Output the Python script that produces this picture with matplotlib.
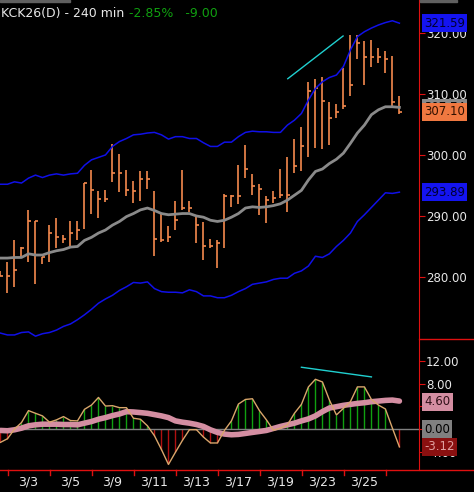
import matplotlib
matplotlib.use("Agg")
import matplotlib.pyplot as plt
from matplotlib.transforms import blended_transform_factory
import numpy as np

# ── data ─────────────────────────────────────────────────────────────
highs = [280.9, 282.5, 286.1, 284.9, 291.0, 289.2, 283.3, 288.5, 289.6, 286.9,
         289.2, 289.1, 295.4, 297.5, 294.1, 294.3, 301.8, 300.1, 297.5, 295.7,
         297.3, 297.3, 294.1, 290.4, 288.3, 292.4, 297.5, 292.5, 290.2, 289.0,
         286.3, 286.1, 293.6, 293.4, 298.3, 301.6, 296.9, 295.2, 293.2, 294.1,
         297.7, 299.6, 302.6, 304.6, 311.9, 312.5, 312.8, 308.7, 308.4, 314.2,
         319.7, 319.6, 318.7, 318.9, 317.6, 317.0, 316.2, 309.6]
lows = [280.1, 277.4, 278.3, 283.3, 282.4, 278.8, 282.1, 282.4, 284.7, 285.6,
        285.0, 286.1, 287.9, 290.4, 289.6, 292.3, 295.6, 294.0, 293.2, 292.1,
        292.5, 294.5, 283.5, 285.7, 285.8, 287.7, 290.9, 290.7, 285.5, 282.8,
        284.7, 281.5, 284.8, 291.4, 292.0, 296.2, 293.4, 290.2, 288.8, 292.1,
        292.9, 290.7, 297.0, 297.4, 299.6, 301.1, 300.9, 301.7, 306.0, 307.5,
        309.7, 315.8, 311.4, 314.5, 315.0, 313.4, 307.7, 306.7]
closes = [280.1, 280.1, 281.2, 284.7, 289.2, 289.1, 283.3, 287.2, 286.5, 286.3,
          287.2, 287.7, 295.4, 294.3, 292.8, 292.8, 297.0, 297.0, 294.3, 294.1,
          296.1, 296.1, 286.3, 286.1, 286.6, 289.3, 291.3, 291.3, 288.6, 285.0,
          285.0, 285.6, 293.2, 293.2, 293.2, 297.7, 294.9, 294.4, 292.6, 292.9,
          293.4, 293.4, 298.2, 301.4, 310.5, 310.9, 308.9, 306.0, 307.1, 308.0,
          311.5, 318.3, 316.0, 316.0, 316.0, 315.7, 308.7, 307.1]
bb_mid = [283.1, 283.1, 283.2, 283.2, 283.8, 283.6, 283.6, 284.0, 284.3, 284.5,
          284.9, 285.0, 286.0, 286.5, 287.2, 287.7, 288.5, 289.1, 289.9, 290.4,
          291.0, 291.3, 290.9, 290.4, 290.2, 290.3, 290.4, 290.4, 290.0, 289.8,
          289.3, 289.1, 289.3, 289.8, 290.4, 291.3, 291.5, 291.4, 291.5, 291.7,
          292.0, 292.6, 293.4, 294.2, 295.9, 297.3, 297.7, 298.6, 299.3, 300.3,
          301.9, 303.6, 304.9, 306.6, 307.4, 307.9, 307.9, 307.8]
bb_up = [295.2, 295.2, 295.6, 295.4, 296.2, 296.7, 296.3, 296.7, 296.9, 296.7,
         296.9, 297.0, 298.3, 299.2, 299.6, 300.0, 301.4, 302.2, 302.7, 303.3,
         303.4, 303.6, 303.7, 303.3, 302.6, 303.0, 303.0, 302.7, 302.7, 302.0,
         301.4, 301.4, 302.1, 302.1, 303.0, 303.7, 303.9, 303.8, 303.8, 303.7,
         303.7, 304.9, 305.7, 306.8, 309.0, 310.9, 312.0, 312.7, 313.1, 314.5,
         317.2, 319.4, 320.2, 320.8, 321.3, 321.7, 322.0, 321.6]
bb_lo = [270.8, 270.5, 270.5, 270.9, 271.0, 270.3, 270.7, 270.9, 271.3, 271.9,
         272.3, 273.0, 273.8, 274.7, 275.7, 276.4, 277.0, 277.8, 278.4, 279.1,
         279.0, 279.2, 278.1, 277.6, 277.5, 277.5, 277.4, 277.9, 277.6, 276.9,
         276.9, 276.6, 276.6, 277.0, 277.6, 278.1, 278.8, 279.0, 279.2, 279.6,
         279.8, 279.8, 280.6, 281.0, 281.8, 283.4, 283.2, 283.8, 285.0, 286.0,
         287.2, 289.1, 290.2, 291.4, 292.6, 293.8, 293.7, 293.9]
osc = [-2.33, -1.69, 0.0, 1.16, 3.26, 2.79, 2.33, 1.22, 1.63, 2.21,
       1.51, 1.45, 3.49, 4.24, 5.58, 4.07, 4.13, 3.78, 3.78, 1.92,
       1.74, 0.58, -1.16, -3.6, -6.22, -4.07, -1.98, -0.1, -0.1, -1.4,
       -2.44, -2.44, -0.23, 1.45, 4.42, 5.23, 5.35, 3.26, 1.63, -0.2,
       0.17, 0.76, 2.79, 4.36, 7.44, 8.78, 8.31, 5.12, 2.5, 3.66,
       4.83, 7.44, 7.44, 5.23, 4.24, 3.55, 0.17, -3.12]
signal = [-0.23, -0.29, -0.12, 0.17, 0.58, 0.76, 0.87, 0.87, 0.87, 0.81,
          0.81, 0.76, 1.05, 1.34, 1.74, 2.03, 2.38, 2.67, 3.08, 3.02,
          2.91, 2.79, 2.56, 2.33, 2.03, 1.45, 1.22, 1.05, 0.81, 0.47,
          -0.12, -0.58, -0.87, -0.99, -0.93, -0.76, -0.58, -0.41, -0.23, 0.12,
          0.47, 0.76, 1.05, 1.45, 1.8, 2.33, 3.08, 3.72, 3.95, 4.19,
          4.36, 4.53, 4.65, 4.83, 4.94, 5.06, 5.12, 4.94]
date_pos = [4, 10, 16, 22, 28, 34, 40, 46, 52]
date_labels = ["3/3", "3/5", "3/9", "3/11", "3/13", "3/17", "3/19", "3/23", "3/25"]
price_ticks = [280, 290, 300, 310, 320]
osc_ticks = [12, 8, 4, 0, -4]

# 색상
C_BAR = "#f58a4e"
C_BAND = "#1010e8"
C_MID = "#8a8a8a"
C_OSC = "#d9a66b"
C_SIG = "#d48ea2"
C_RED = "#e01010"
C_TXT = "#e8e8e8"

W, H = 474, 492
fig = plt.figure(figsize=(W / 100, H / 100), dpi=100, facecolor="black")
ax1 = fig.add_axes([0, (H - 338) / H, 419 / W, 338 / H])
ax2 = fig.add_axes([0, (H - 470) / H, 419 / W, 130 / H])

x = np.arange(len(closes))
for ax in (ax1, ax2):
    ax.set_facecolor("black")
    ax.set_xlim(-0.07, 59.8)
    ax.set_xticks([])
    for s in ("top", "left"):
        ax.spines[s].set_visible(False)
    ax.spines["right"].set_color(C_RED)
    ax.spines["bottom"].set_visible(False)
    ax.yaxis.tick_right()
    ax.tick_params(axis="y", colors=C_RED, length=4, labelsize=8.5, labelcolor=C_TXT, pad=1)

# ── price panel ─────────────────────────────────────────────────────
ax1.set_ylim(270.0, 325.4)
ax1.vlines(x, lows, highs, color=C_BAR, lw=1.2)
ax1.hlines(closes, x, x + 0.35, color=C_BAR, lw=1.2)
ax1.plot(x, bb_up, color=C_BAND, lw=1.1)
ax1.plot(x, bb_lo, color=C_BAND, lw=1.1)
ax1.plot(x, bb_mid, color=C_MID, lw=2)
ax1.plot([41.05, 48.95], [312.5, 319.5], color="#20d0d0", lw=1)
ax1.set_yticks(price_ticks)
ax1.set_yticklabels([f"{v:.2f}" for v in price_ticks])

tr1 = blended_transform_factory(ax1.transAxes, ax1.transData)
def tag(ax, tr, y, txt, fc, tc="black"):
    ax.text(1.012, y, txt, transform=tr, ha="left", va="center", fontsize=8.5, color=tc,
            clip_on=False, zorder=6,
            bbox=dict(boxstyle="square,pad=0.2", fc=fc, ec="none"))

tag(ax1, tr1, bb_mid[-1], "307.74", "#8a8a8a")
tag(ax1, tr1, bb_up[-1], "321.59", "#1414f0", "#000030")
tag(ax1, tr1, bb_lo[-1], "293.89", "#1414f0", "#000030")
tag(ax1, tr1, closes[-1], "307.10", "#f07840", "#301000")

fig.add_artist(plt.Rectangle((0, 0.995), 70 / W, 0.005, color="#606060"))
fig.add_artist(plt.Rectangle((420 / W, 0.995), 37 / W, 0.005, color="#606060"))
fig.text(0.002, 0.973, "KCK26(D) - 240 min", color=C_TXT, fontsize=9, va="center")
fig.text(0.272, 0.973, "-2.85%   -9.00", color="#10a010", fontsize=9, va="center")

# ── oscillator panel ────────────────────────────────────────────────
ax2.set_ylim(-7.2, 15.7)
osc_a = np.array(osc)
cols = np.where(osc_a >= 0, "#10a010", "#b01010")
ax2.vlines(x, 0, osc_a, colors=cols, lw=1)
ax2.axhline(0, color="#808080", lw=1)
ax2.plot(x, signal, color=C_SIG, lw=4, solid_capstyle="round")
ax2.plot(x, osc, color=C_OSC, lw=1)
ax2.plot([43, 53], [10.9, 9.2], color="#20d0d0", lw=1)
ax2.set_yticks(osc_ticks)
ax2.set_yticklabels([f"{v:.2f}" for v in osc_ticks])
tr2 = blended_transform_factory(ax2.transAxes, ax2.transData)
tag(ax2, tr2, 4.8, "4.60", "#d48ea2", "#301018")
tag(ax2, tr2, 0, "0.00", "#808080")
tag(ax2, tr2, -3.12, "-3.12", "#8a1010", "#e0a0a0")

# date axis (red line + ticks)
fig.add_artist(plt.Line2D([0, 1], [(H - 470) / H] * 2, color=C_RED, lw=1))
fig.add_artist(plt.Line2D([419 / W, 1], [(H - 339) / H] * 2, color=C_RED, lw=1))
for i in range(1, 58, 6):
    px = (0.5 + 7 * i) / W
    fig.add_artist(plt.Line2D([px, px], [(H - 470) / H, (H - 475) / H], color=C_RED, lw=1))
for p, lbl in zip(date_pos, date_labels):
    fig.text((0.5 + 7 * p) / W, (H - 482) / H, lbl, color=C_TXT, fontsize=9,
             ha="center", va="center")

fig.savefig("out.png", dpi=100, facecolor="black")
